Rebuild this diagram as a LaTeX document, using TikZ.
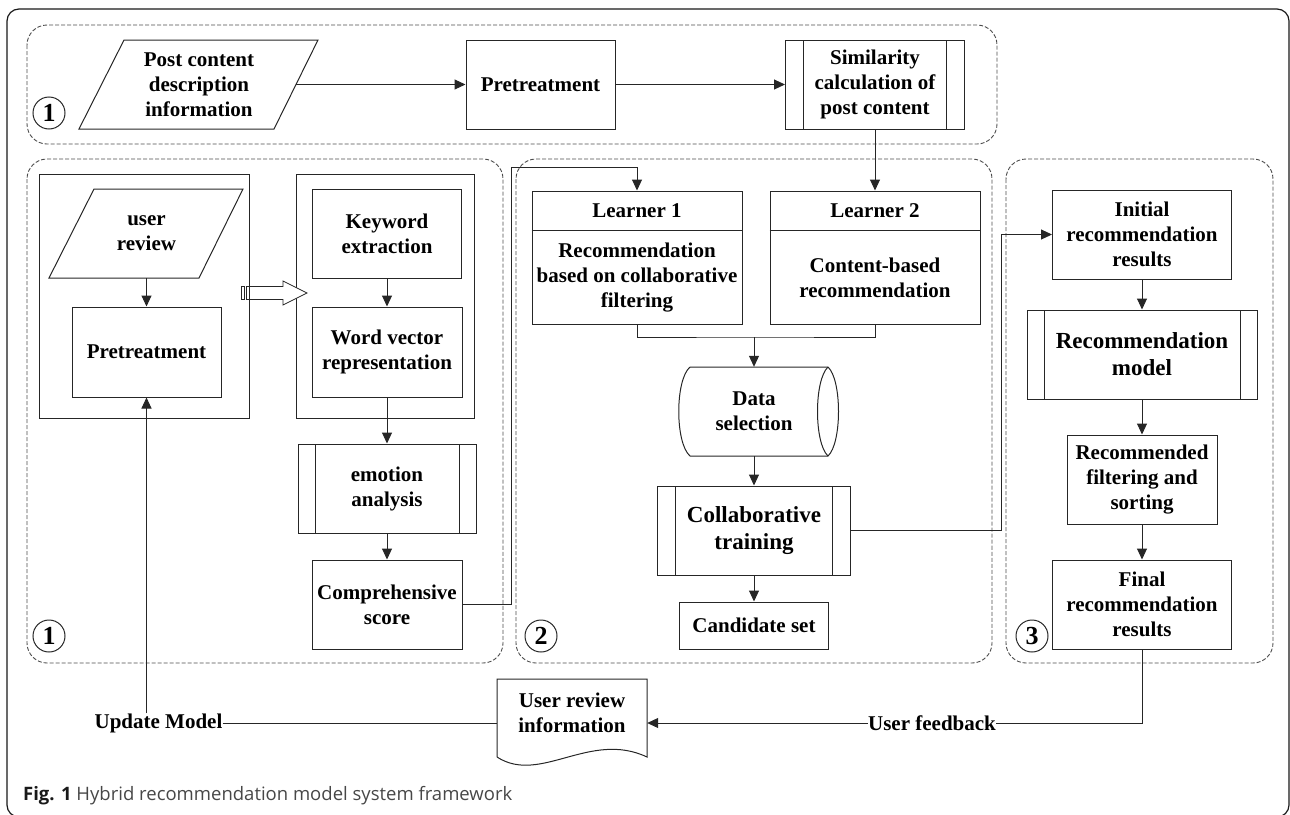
\documentclass[tikz,border=0pt]{standalone}
\usepackage{fontspec}
\setmainfont{Liberation Serif}
\newfontfamily\capfont{Open Sans}
\usetikzlibrary{arrows.meta,calc}
\begin{document}
\begin{tikzpicture}[x=1pt,y=-1pt,
 ln/.style={line width=1pt,draw=black!85},
 box/.style={ln, rectangle, inner sep=0pt, align=center, font=\bfseries\fontsize{21}{25}\selectfont},
 txt/.style={inner sep=0pt, align=center, font=\bfseries\fontsize{21}{25}\selectfont},
 big/.style={font=\bfseries\fontsize{23}{27}\selectfont},
 proc/.style={box, path picture={\draw[ln] ([xshift=#1]path picture bounding box.north west) -- ([xshift=#1]path picture bounding box.south west) ([xshift=-#1]path picture bounding box.north east) -- ([xshift=-#1]path picture bounding box.south east);}},
 grp/.style={draw=black!70, line width=0.9pt, dash pattern=on 4pt off 2pt, rounded corners=20pt},
 num/.style={circle, draw=black!85, line width=1pt, minimum size=32pt, inner sep=0pt, font=\bfseries\fontsize{26}{26}\selectfont},
 arr/.style={ln, -{Triangle[length=11pt,width=10pt]}},
]
\useasboundingbox (0,0) rectangle (1290,814);
% outer frame
\draw[line width=1.2pt, draw=black!90, rounded corners=12pt] (7,9) rectangle (1289,817);
% groups
\draw[grp] (27,25) rectangle (997,144);
\draw[grp] (27,159) rectangle (503,663);
\draw[grp] (516,159) rectangle (992,663);
\draw[grp] (1006,159) rectangle (1273,663);

% top row
\draw[ln] (124,40) -- (318,40) -- (274,129) -- (79,129) -- cycle;
\node[txt, minimum width=194.5, minimum height=89] (post) at (199,84.5) {Post content\\description\\information};
\node[box, minimum width=149, minimum height=89] (pre1) at (540.5,84.5) {Pretreatment};
\node[proc=18pt, minimum width=179, minimum height=89] (sim) at (875,84.5) {Similarity\\calculation of\\post content};
\node[num] (n1a) at (49,113) {1};

% left group
\node[box, minimum width=210, minimum height=244] (boxA) at (144,296) {};
\draw[ln] (94,189) -- (243,189) -- (199,278) -- (49,278) -- cycle;
\node[txt, minimum width=149.5, minimum height=89] (urev) at (146.5,233.5) {user\\review};
\node[box, minimum width=149, minimum height=90] (pre2) at (146.5,352) {Pretreatment};
\node[box, minimum width=178, minimum height=244] (boxB) at (385,296) {};
\node[box, minimum width=149, minimum height=89] (kw) at (387,233.5) {Keyword\\extraction};
\node[box, minimum width=150, minimum height=90] (wv) at (387,352) {Word vector\\representation};
\node[proc=17pt, minimum width=178, minimum height=89] (emo) at (387,488.5) {emotion\\analysis};
\node[box, minimum width=150, minimum height=89] (comp) at (387,604.5) {Comprehensive\\score};
\node[num] (n1b) at (49,636) {1};
% hollow arrow between boxA and boxB
\draw[ln, line width=0.8pt] (241,286.5) rectangle (244,299.5);
\draw[ln, line width=0.8pt] (246.5,286.5) rectangle (252,299.5);
\draw[ln, line width=0.8pt, fill=white] (252,286.5) -- (283,286.5) -- (283,281) -- (307,293) -- (283,305) -- (283,299.5) -- (252,299.5);

% middle group
\node[box, minimum width=210, minimum height=133] (l1) at (637,257.5) {};
\draw[ln] ($(l1.north west)+(0,40)$) -- ($(l1.north east)+(0,40)$);
\node[txt] (l1t) at ($(l1.north)+(0,20)$) {Learner 1};
\node[txt] (l1b) at ($(l1.center)+(0,20)$) {Recommendation\\based on collaborative\\filtering};
\node[box, minimum width=210, minimum height=133] (l2) at (875,257.5) {};
\draw[ln] ($(l2.north west)+(0,40)$) -- ($(l2.north east)+(0,40)$);
\node[txt] (l2t) at ($(l2.north)+(0,20)$) {Learner 2};
\node[txt] (l2b) at ($(l2.center)+(0,20)$) {Content-based\\recommendation};
\draw[ln] (690,367) -- (828,367) .. controls (842,380) and (842,443) .. (828,456) -- (690,456) .. controls (675,443) and (675,380) .. (690,367);
\draw[ln] (828,367) .. controls (814,380) and (814,443) .. (828,456);
\node[txt, minimum width=130, minimum height=89] (ds) at (754,411.5) {Data\\selection};
\node[proc=18pt, big, minimum width=193, minimum height=89] (ct) at (754,530.5) {Collaborative\\training};
\node[box, minimum width=149, minimum height=47] (cs) at (754,625.5) {Candidate set};
\node[num] (n2) at (541,636) {2};

% right group
\node[box, minimum width=179, minimum height=89] (irr) at (1142,234.5) {Initial\\recommendation\\results};
\node[proc=17pt, big, minimum width=230, minimum height=89] (rm) at (1142,354.5) {Recommendation\\model};
\node[box, minimum width=150, minimum height=89] (rfs) at (1142,479.5) {Recommended\\filtering and\\sorting};
\node[box, minimum width=179, minimum height=89] (frr) at (1142,604.5) {Final\\recommendation\\results};
\node[num] (n3) at (1032,636) {3};

% bottom
\draw[ln] (497,757) -- (497,679) -- (647,679) -- (647,757) .. controls (590,730) and (540,785) .. (497,757);
\node[txt, minimum width=150, minimum height=68] (uri) at (572,713) {User review\\information};
\node[txt] (um) at (158.5,723) {Update Model};
\node[txt] (fb) at (932,723) {User feedback};

% connectors
\draw[arr] (post.east) -- (pre1.west);
\draw[arr] (pre1.east) -- (sim.west);
\draw[arr] (sim.south) -- (l2.north);
\draw[arr] (urev.south) -- (pre2.north);
\draw[arr] (pre2.south |- um.north) -- (pre2.south);
\draw[ln] (um.east) -- (um.east -| uri.west);
\draw[arr] (kw.south) -- (wv.north);
\draw[arr] (wv.south) -- (emo.north);
\draw[arr] (emo.south) -- (comp.north);
\coordinate (j1) at (511,167);
\draw[arr] (comp.east) -| (j1) -| (l1.north);
\coordinate (j2) at (754,337);
\draw[ln] (l1.south) |- (j2) -| (l2.south);
\draw[arr] (j2) -- (ds.north);
\draw[arr] (ds.south) -- (ct.north);
\draw[arr] (ct.south) -- (cs.north);
\coordinate (j3) at (1001,234.5);
\draw[arr] (ct.east) -| (j3) -- (irr.west);
\draw[arr] (irr.south) -- (rm.north);
\draw[arr] (rm.south) -- (rfs.north);
\draw[arr] (rfs.south) -- (frr.north);
\draw[ln] (frr.south) |- (fb.east);
\draw[arr] (fb.west) -- (fb.west -| uri.east);

% caption
\node[anchor=west, inner sep=0pt, font=\capfont\fontsize{18.5}{21}\selectfont, text=black!72] (cap) at (23,796) {{\bfseries\color{black!90}Fig. 1} Hybrid recommendation model system framework};
\end{tikzpicture}
\end{document}
